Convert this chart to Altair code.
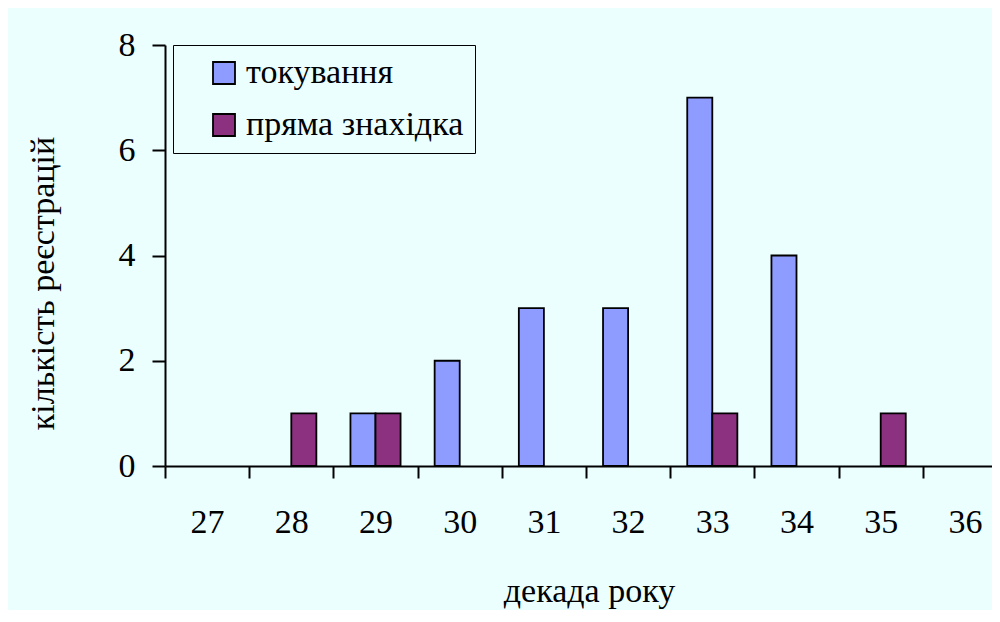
import altair as alt
import pandas as pd

decades = ["27", "28", "29", "30", "31", "32", "33", "34", "35", "36"]
series = ["токування", "пряма знахідка"]
tokuvannia = [0, 0, 1, 2, 3, 3, 7, 4, 0, 0]
priama = [0, 1, 1, 0, 0, 0, 1, 0, 1, 0]
colors = ["#8E9BFF", "#8B3180"]
y_ticks = [0, 2, 4, 6, 8]

rows = []
for d, a, b in zip(decades, tokuvannia, priama):
    rows.append({"decade": d, "series": series[0], "value": a})
    rows.append({"decade": d, "series": series[1], "value": b})
df = pd.DataFrame(rows)

FONT = "Liberation Serif"
FS = 34

chart = (
    alt.Chart(df)
    .transform_filter("datum.value > 0")
    .mark_bar(stroke="black", strokeWidth=1.8)
    .encode(
        x=alt.X(
            "decade:N",
            sort=decades,
            scale=alt.Scale(domain=decades, range=[0, 842], paddingInner=0, paddingOuter=0),
            axis=alt.Axis(
                title="декада року",
                labelAngle=0,
                tickBand="extent",
                tickSize=12,
                tickWidth=2,
                tickColor="black",
                domainColor="black",
                domainWidth=2,
                labelFont=FONT,
                labelFontSize=FS,
                labelColor="black",
                labelBaseline="alphabetic",
                labelPadding=54,
                titleFont=FONT,
                titleFontSize=FS,
                titleFontWeight="normal",
                titleColor="black",
                titleBaseline="alphabetic",
                titleX=424,
                titleY=135,
            ),
        ),
        xOffset=alt.XOffset(
            "series:N",
            sort=series,
            scale=alt.Scale(domain=series, paddingInner=0, paddingOuter=0.68),
        ),
        y=alt.Y(
            "value:Q",
            scale=alt.Scale(domain=[0, 8], nice=False),
            axis=alt.Axis(
                title="кількість реєстрацій",
                values=y_ticks,
                grid=False,
                tickSize=13,
                tickWidth=2,
                tickColor="black",
                domainColor="black",
                domainWidth=2,
                labelFont=FONT,
                labelFontSize=FS,
                labelColor="black",
                labelPadding=17,
                titleFont=FONT,
                titleFontSize=FS,
                titleFontWeight="normal",
                titleColor="black",
                titleAngle=-90,
                titleBaseline="alphabetic",
                titleAlign="center",
                titleX=-112,
                titleY=238,
            ),
        ),
        color=alt.Color(
            "series:N",
            sort=series,
            scale=alt.Scale(domain=series, range=colors),
            legend=alt.Legend(
                title=None,
                orient="none",
                legendX=8,
                legendY=0,
                symbolType="square",
                symbolSize=484,
                symbolStrokeColor="black",
                symbolStrokeWidth=1.8,
                symbolOpacity=1,
                symbolOffset=23,
                labelFont=FONT,
                labelFontSize=FS,
                labelColor="black",
                labelOffset=5,
                labelLimit=0,
                labelExpr="datum.label + '   '",
                rowPadding=18,
                padding=11,
                strokeColor="black",
            ),
        ),
    )
    .properties(
        width=827,
        height=421,
        padding={"left": 157, "top": 37, "right": 0, "bottom": 144},
        autosize=alt.AutoSizeParams(type="none"),
        background="#EBFFFF",
    )
    .configure_view(stroke=None)
)

chart.save("out.html", embed_options={"renderer": "svg", "actions": False})
